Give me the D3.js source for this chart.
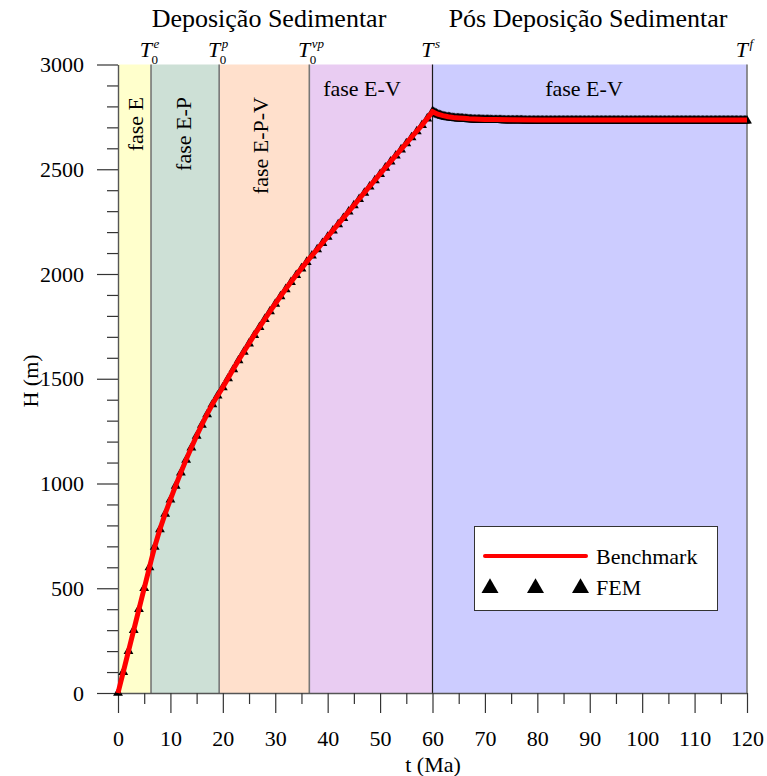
<!DOCTYPE html>
<html>
<head>
<meta charset="utf-8">
<script src="https://cdn.jsdelivr.net/npm/d3@7"></script>
<style>
  body { margin: 0; background: #fff; }
  svg { display: block; }
  text { font-family: "Liberation Serif", "Times New Roman", serif; fill: #000; }
</style>
</head>
<body>
<svg id="chart" width="767" height="776"></svg>
<script>
// ---- Benchmark (analytic) solution: time t (Ma) and thickness H (m) ----
const benchT = [0, 1, 2, 3, 4, 5, 6, 6.3, 7, 8, 9, 10, 11, 12, 13, 14, 15, 16, 17, 18, 19, 19.3,
  20, 21, 22, 23, 24, 25, 26, 27, 28, 29, 30, 31, 32, 33, 34, 35, 36, 36.5,
  37, 38, 39, 40, 41, 42, 43, 44, 45, 46, 47, 48, 49, 50, 51, 52, 53, 54, 55, 56, 57, 58, 59, 60,
  61, 62, 63, 64, 65, 66, 67, 68, 70, 72, 75, 80, 90, 100, 110, 120];
const benchH = [0, 100, 200, 300, 400, 500, 600, 630, 698, 782, 856, 924, 990, 1053, 1114, 1172, 1228, 1281, 1331, 1378, 1420, 1431,
  1460, 1503, 1546, 1588, 1629, 1669, 1709, 1747, 1785, 1822, 1858, 1894, 1928, 1962, 1995, 2027, 2058, 2073,
  2088, 2118, 2148, 2178, 2208, 2238, 2268, 2298, 2328, 2358, 2388, 2418, 2448, 2478, 2508, 2537, 2566, 2595, 2624, 2653, 2682, 2711, 2743, 2775,
  2763, 2756, 2751, 2747, 2745, 2743, 2741, 2740, 2738, 2737, 2736, 2735, 2735, 2735, 2735, 2735];

// ---- FEM results during sedimentation (one output per Ma) ----
const femDepT = [0, 1, 2, 3, 4, 5, 6, 7, 8, 9, 10, 11, 12, 13, 14, 15, 16, 17, 18, 19, 20,
  21, 22, 23, 24, 25, 26, 27, 28, 29, 30, 31, 32, 33, 34, 35, 36, 37, 38, 39, 40,
  41, 42, 43, 44, 45, 46, 47, 48, 49, 50, 51, 52, 53, 54, 55, 56, 57, 58, 59];
const femDepH = [0, 100, 200, 300, 400, 500, 600, 697, 781, 855, 923, 989, 1052, 1113, 1171, 1227, 1280, 1330, 1377, 1419, 1459,
  1502, 1545, 1587, 1628, 1668, 1708, 1746, 1784, 1821, 1857, 1893, 1927, 1961, 1994, 2026, 2057, 2087, 2117, 2147, 2177,
  2207, 2237, 2267, 2297, 2327, 2357, 2387, 2417, 2447, 2477, 2507, 2536, 2565, 2594, 2623, 2652, 2681, 2710, 2742];

// ---- FEM results after sedimentation (output every 0.25 Ma) ----
const femPostT = [
  60, 60.25, 60.5, 60.75, 61, 61.25, 61.5, 61.75, 62, 62.25, 62.5, 62.75, 63, 63.25, 63.5, 63.75, 64, 64.25, 64.5, 64.75,
  65, 65.25, 65.5, 65.75, 66, 66.25, 66.5, 66.75, 67, 67.25, 67.5, 67.75, 68, 68.25, 68.5, 68.75, 69, 69.25, 69.5, 69.75,
  70, 70.25, 70.5, 70.75, 71, 71.25, 71.5, 71.75, 72, 72.25, 72.5, 72.75, 73, 73.25, 73.5, 73.75, 74, 74.25, 74.5, 74.75,
  75, 75.25, 75.5, 75.75, 76, 76.25, 76.5, 76.75, 77, 77.25, 77.5, 77.75, 78, 78.25, 78.5, 78.75, 79, 79.25, 79.5, 79.75,
  80, 80.25, 80.5, 80.75, 81, 81.25, 81.5, 81.75, 82, 82.25, 82.5, 82.75, 83, 83.25, 83.5, 83.75, 84, 84.25, 84.5, 84.75,
  85, 85.25, 85.5, 85.75, 86, 86.25, 86.5, 86.75, 87, 87.25, 87.5, 87.75, 88, 88.25, 88.5, 88.75, 89, 89.25, 89.5, 89.75,
  90, 90.25, 90.5, 90.75, 91, 91.25, 91.5, 91.75, 92, 92.25, 92.5, 92.75, 93, 93.25, 93.5, 93.75, 94, 94.25, 94.5, 94.75,
  95, 95.25, 95.5, 95.75, 96, 96.25, 96.5, 96.75, 97, 97.25, 97.5, 97.75, 98, 98.25, 98.5, 98.75, 99, 99.25, 99.5, 99.75,
  100, 100.25, 100.5, 100.75, 101, 101.25, 101.5, 101.75, 102, 102.25, 102.5, 102.75, 103, 103.25, 103.5, 103.75, 104, 104.25, 104.5, 104.75,
  105, 105.25, 105.5, 105.75, 106, 106.25, 106.5, 106.75, 107, 107.25, 107.5, 107.75, 108, 108.25, 108.5, 108.75, 109, 109.25, 109.5, 109.75,
  110, 110.25, 110.5, 110.75, 111, 111.25, 111.5, 111.75, 112, 112.25, 112.5, 112.75, 113, 113.25, 113.5, 113.75, 114, 114.25, 114.5, 114.75,
  115, 115.25, 115.5, 115.75, 116, 116.25, 116.5, 116.75, 117, 117.25, 117.5, 117.75, 118, 118.25, 118.5, 118.75, 119, 119.25, 119.5, 119.75,
  120];
const femPostH = [
  2776, 2772, 2768, 2765, 2762, 2759, 2757, 2755, 2753, 2751, 2750, 2749, 2748, 2747, 2746, 2745, 2744, 2744, 2743, 2743,
  2742, 2742, 2741, 2741, 2740, 2740, 2739, 2739, 2738, 2738, 2738, 2737, 2737, 2737, 2736, 2736, 2736, 2736, 2735, 2735,
  2735, 2735, 2735, 2735, 2735, 2734, 2734, 2734, 2734, 2734, 2734, 2734, 2734, 2734, 2733, 2733, 2733, 2733, 2733, 2733,
  2733, 2733, 2733, 2733, 2733, 2733, 2733, 2733, 2733, 2733, 2732, 2732, 2732, 2732, 2732, 2732, 2732, 2732, 2732, 2732,
  2732, 2732, 2732, 2732, 2732, 2732, 2732, 2732, 2732, 2732, 2732, 2732, 2732, 2732, 2732, 2732, 2732, 2732, 2732, 2732,
  2732, 2732, 2732, 2732, 2732, 2732, 2732, 2732, 2732, 2732, 2732, 2732, 2732, 2732, 2732, 2732, 2732, 2732, 2732, 2732,
  2732, 2732, 2732, 2732, 2732, 2732, 2732, 2732, 2732, 2732, 2732, 2732, 2732, 2732, 2732, 2732, 2732, 2732, 2732, 2732,
  2732, 2732, 2732, 2732, 2732, 2732, 2732, 2732, 2732, 2732, 2732, 2732, 2732, 2732, 2732, 2732, 2732, 2732, 2732, 2732,
  2732, 2732, 2732, 2732, 2732, 2732, 2732, 2732, 2732, 2732, 2732, 2732, 2732, 2732, 2732, 2732, 2732, 2732, 2732, 2732,
  2732, 2732, 2732, 2732, 2732, 2732, 2732, 2732, 2732, 2732, 2732, 2732, 2732, 2732, 2732, 2732, 2732, 2732, 2732, 2732,
  2732, 2732, 2732, 2732, 2732, 2732, 2732, 2732, 2732, 2732, 2732, 2732, 2732, 2732, 2732, 2732, 2732, 2732, 2732, 2732,
  2732, 2732, 2732, 2732, 2732, 2732, 2732, 2732, 2732, 2732, 2732, 2732, 2732, 2732, 2732, 2732, 2732, 2732, 2732, 2732,
  2732];

// ---- Phases (background bands) ----
const phaseNames = ["fase E", "fase E-P", "fase E-P-V", "fase E-V", "fase E-V"];
const phaseStart = [0, 6.3, 19.3, 36.5, 60];
const phaseEnd = [6.3, 19.3, 36.5, 60, 120];
const phaseColors = ["#ffffcc", "#cde0d6", "#ffe0cc", "#e9ccf2", "#ccccff"];
const phaseVertical = [true, true, true, false, false];

// ---- Characteristic times marked above the plot ----
const markT = [6.3, 19.3, 36.5, 60, 120];
const markSup = ["e", "p", "vp", "s", "f"];
const markSub = ["0", "0", "0", "", ""];

// ---- Section titles ----
const sectionTitles = ["Deposição Sedimentar", "Pós Deposição Sedimentar"];
const sectionCenters = [269, 588];

// ---- Ticks ----
const xTicks = [0, 10, 20, 30, 40, 50, 60, 70, 80, 90, 100, 110, 120];
const yTicks = [0, 500, 1000, 1500, 2000, 2500, 3000];
const xMinor = [5, 15, 25, 35, 45, 55, 65, 75, 85, 95, 105, 115];
const yMinor = [100, 200, 300, 400, 600, 700, 800, 900, 1100, 1200, 1300, 1400, 1600, 1700, 1800, 1900,
  2100, 2200, 2300, 2400, 2600, 2700, 2800, 2900];

const legendLabels = ["Benchmark", "FEM"];

const svg = d3.select("#chart");
const x = d3.scaleLinear().domain([0, 120]).range([118, 747]);
const y = d3.scaleLinear().domain([0, 3000]).range([693, 64.5]);

// background bands
svg.append("g").selectAll("rect")
  .data(phaseStart.map((s, i) => ({ s, e: phaseEnd[i], c: phaseColors[i] })))
  .join("rect")
  .attr("x", d => x(d.s)).attr("y", y(3000))
  .attr("width", d => x(d.e) - x(d.s)).attr("height", y(0) - y(3000))
  .attr("fill", d => d.c);

// band boundaries
svg.append("g").selectAll("line")
  .data(markT)
  .join("line")
  .attr("x1", d => x(d)).attr("x2", d => x(d))
  .attr("y1", y(3000)).attr("y2", y(0))
  .attr("stroke", d => d === 60 ? "#1a1a1a" : "#777")
  .attr("stroke-width", d => d === 60 ? 1.2 : 1.6);

// phase labels
const phaseG = svg.append("g").attr("font-size", 22);
const vertBase = [142.5, 190.5, 268];
phaseNames.forEach((name, i) => {
  if (phaseVertical[i]) {
    phaseG.append("text")
      .attr("transform", `translate(${vertBase[i]},97) rotate(-90)`)
      .attr("text-anchor", "end")
      .text(name);
  } else {
    phaseG.append("text")
      .attr("x", i === 3 ? 362 : 584).attr("y", 96)
      .attr("text-anchor", "middle")
      .text(name);
  }
});

// axes
const fmt = d3.format("d");
svg.append("g").attr("transform", `translate(${x(0)},0)`)
  .call(d3.axisLeft(y).tickValues(yTicks).tickFormat(fmt).tickSize(21).tickSizeOuter(0).tickPadding(13));
svg.append("g").attr("transform", `translate(${x(0)},0)`)
  .call(d3.axisLeft(y).tickValues(yMinor).tickSize(11).tickSizeOuter(0).tickFormat(""))
  .select(".domain").remove();
svg.append("g").attr("transform", `translate(0,${y(0)})`)
  .call(d3.axisBottom(x).tickValues(xTicks).tickFormat(fmt).tickSize(20).tickSizeOuter(0).tickPadding(17));
svg.append("g").attr("transform", `translate(0,${y(0)})`)
  .call(d3.axisBottom(x).tickValues(xMinor).tickSize(11).tickSizeOuter(0).tickFormat(""))
  .select(".domain").remove();
svg.selectAll(".tick text")
  .attr("font-family", "'Liberation Serif', 'Times New Roman', serif")
  .attr("font-size", 22).attr("fill", "#000");
svg.selectAll(".tick line").attr("stroke", "#333").attr("stroke-width", 1.2);
svg.selectAll(".domain").attr("stroke", "#555").attr("stroke-width", 1.4);

// axis titles
svg.append("text").attr("x", 433).attr("y", 772).attr("text-anchor", "middle")
  .attr("font-size", 22).text("t (Ma)");
svg.append("text").attr("transform", "translate(38,381) rotate(-90)")
  .attr("text-anchor", "middle").attr("font-size", 22).text("H (m)");

// section titles
sectionTitles.forEach((t, i) => {
  svg.append("text").attr("x", sectionCenters[i]).attr("y", 27)
    .attr("text-anchor", "middle").attr("font-size", 26).text(t);
});

// characteristic time labels T_0^e, ...
markT.forEach((t, i) => {
  const bx = x(t);
  svg.append("text").attr("x", bx + 1).attr("y", 57).attr("text-anchor", "end")
    .attr("font-size", 22).attr("font-style", "italic").text("T");
  svg.append("text").attr("x", bx + 2.5).attr("y", 48)
    .attr("font-size", 13).attr("font-style", "italic").text(markSup[i]);
  if (markSub[i]) {
    svg.append("text").attr("x", bx + 0.5).attr("y", 64)
      .attr("font-size", 13).text(markSub[i]);
  }
});

// FEM markers
const tri = d3.symbol().type(d3.symbolTriangle).size(42);
const femPts = femDepT.map((t, i) => [t, femDepH[i]])
  .concat(femPostT.map((t, i) => [t, femPostH[i]]));
svg.append("g").selectAll("path")
  .data(femPts)
  .join("path")
  .attr("d", tri)
  .attr("transform", d => `translate(${x(d[0])},${y(d[1])})`)
  .attr("fill", "#000");

// Benchmark curve
const line = d3.line().x(d => x(d[0])).y(d => y(d[1]));
svg.append("path")
  .datum(benchT.map((t, i) => [t, benchH[i]]))
  .attr("d", line)
  .attr("fill", "none")
  .attr("stroke", "#ff0000")
  .attr("stroke-width", 5)
  .attr("stroke-linejoin", "miter");

// legend
const lg = svg.append("g");
lg.append("rect").attr("x", 474.5).attr("y", 526.5).attr("width", 243).attr("height", 84)
  .attr("fill", "#fff").attr("stroke", "#333").attr("stroke-width", 1);
lg.append("line").attr("x1", 485).attr("x2", 586).attr("y1", 556).attr("y2", 556)
  .attr("stroke", "#ff0000").attr("stroke-width", 4).attr("stroke-linecap", "round");
const legTri = d3.symbol().type(d3.symbolTriangle).size(125);
[490, 535.5, 580.5].forEach(cx => {
  lg.append("path").attr("d", legTri).attr("transform", `translate(${cx},588)`).attr("fill", "#000");
});
lg.append("text").attr("x", 596).attr("y", 563.5).attr("font-size", 22).text(legendLabels[0]);
lg.append("text").attr("x", 596).attr("y", 595).attr("font-size", 22).text(legendLabels[1]);
</script>
</body>
</html>
